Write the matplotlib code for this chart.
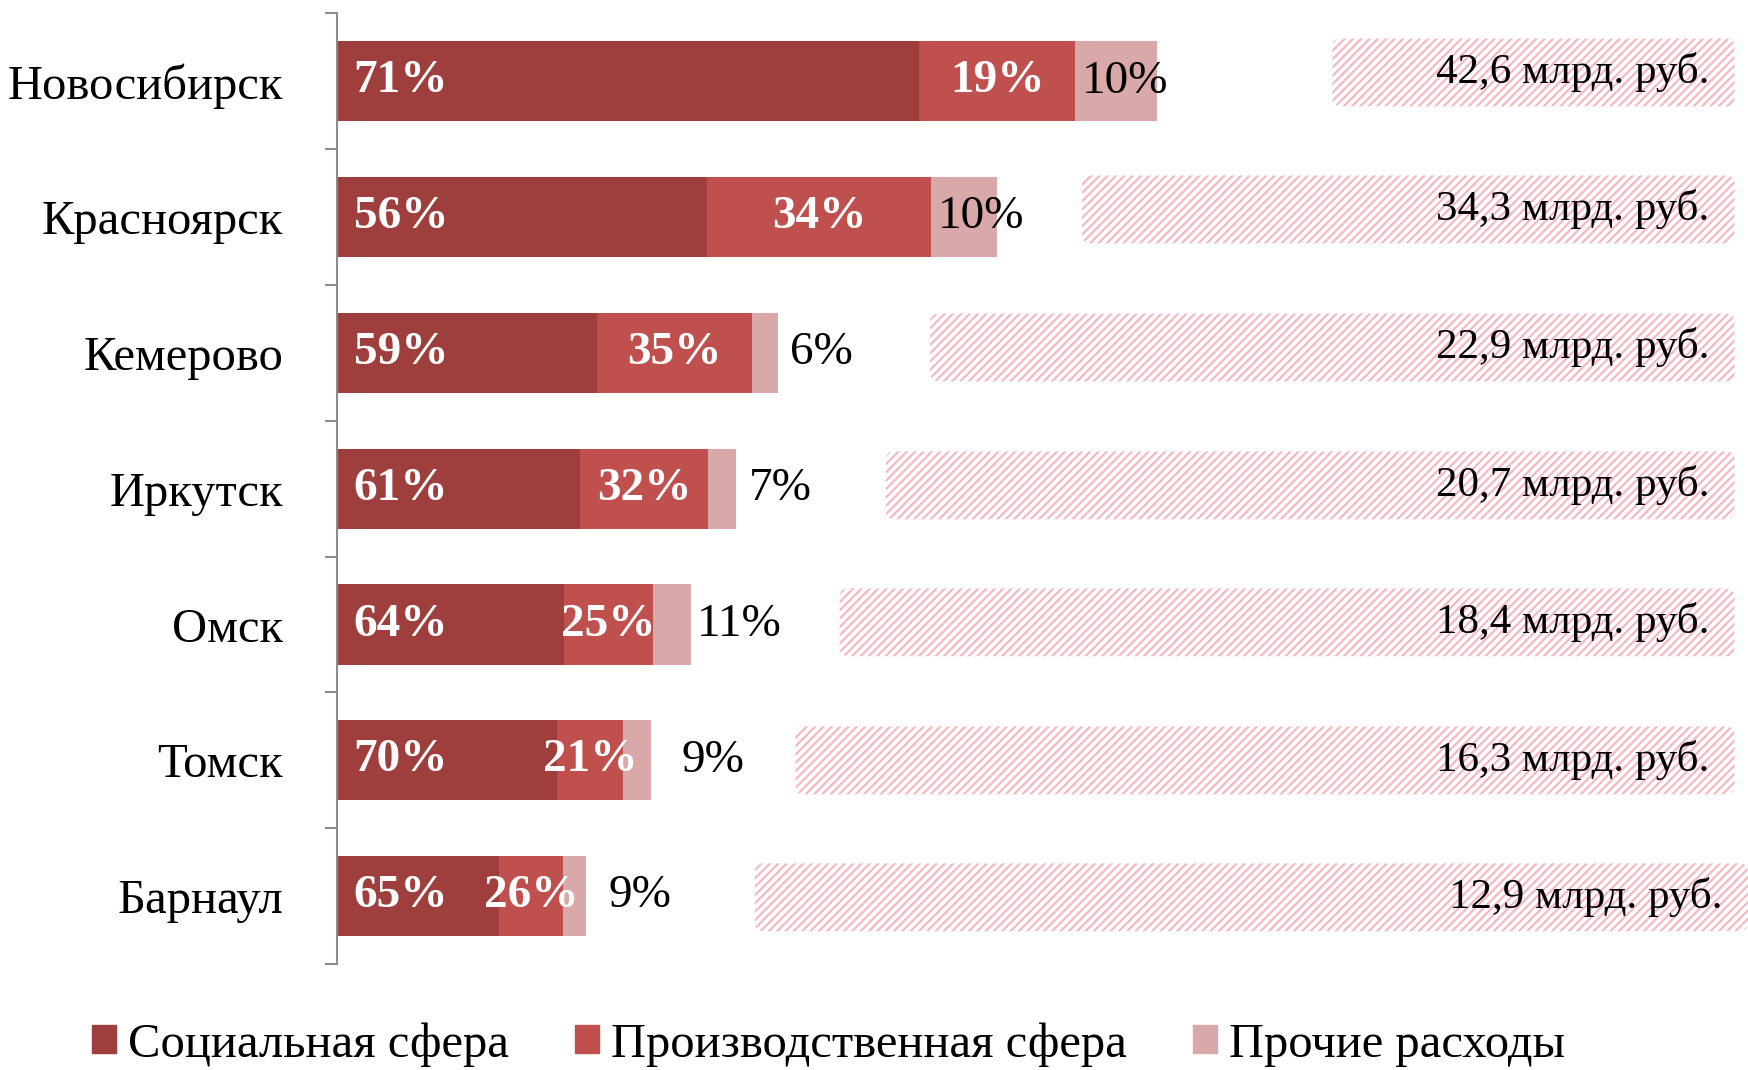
import matplotlib
matplotlib.use("Agg")
import matplotlib.pyplot as plt
from matplotlib.patches import FancyBboxPatch, Patch

plt.rcParams['font.family'] = ['Liberation Serif', 'DejaVu Serif']
plt.rcParams['hatch.linewidth'] = 1.5

cities = ['Новосибирск', 'Красноярск', 'Кемерово', 'Иркутск', 'Омск', 'Томск', 'Барнаул']
totals = [42.6, 34.3, 22.9, 20.7, 18.4, 16.3, 12.9]
social = [71, 56, 59, 61, 64, 70, 65]
production = [19, 34, 35, 32, 25, 21, 26]
other = [10, 10, 6, 7, 11, 9, 9]
total_labels = ['42,6 млрд. руб.', '34,3 млрд. руб.', '22,9 млрд. руб.', '20,7 млрд. руб.',
                '18,4 млрд. руб.', '16,3 млрд. руб.', '12,9 млрд. руб.']
series_names = ['Социальная сфера', 'Производственная сфера', 'Прочие расходы']

# layout (data units)
other_label_x = [38.7, 31.2, 23.5, 21.4, 18.7, 17.9, 14.1]
box_left = [51.7, 38.7, 30.8, 28.5, 26.1, 23.8, 21.7]
box_right = [72.6, 72.6, 72.6, 72.6, 72.6, 72.6, 73.3]
box_shift = [-0.065, -0.057, -0.04, -0.025, -0.016, 0.0, 0.008]

c_social = '#9E3F3E'
c_prod = '#C0504D'
c_other = '#D9A9A9'
c_hatch = '#F8B4C0'

fig = plt.figure(figsize=(17.48, 10.7), dpi=100)
ax = fig.add_axes([0.193, 0.099, 0.807, 0.8885])

y = list(range(len(cities)))
w_soc = [t * s / 100 for t, s in zip(totals, social)]
w_prod = [t * p / 100 for t, p in zip(totals, production)]
w_oth = [t - a - b for t, a, b in zip(totals, w_soc, w_prod)]
left_prod = w_soc
left_oth = [a + b for a, b in zip(w_soc, w_prod)]

ax.barh(y, w_soc, height=0.59, color=c_social, label=series_names[0])
ax.barh(y, w_prod, left=left_prod, height=0.59, color=c_prod, label=series_names[1])
ax.barh(y, w_oth, left=left_oth, height=0.59, color=c_other, label=series_names[2])

fs = 34
for i in y:
    ax.text(0.85, i, f'{social[i]}%', color='white', fontweight='bold', fontsize=fs,
            va='center', ha='left')
    ax.text(left_prod[i] + w_prod[i] / 2, i, f'{production[i]}%', color='white',
            fontweight='bold', fontsize=fs, va='center', ha='center')
    ax.text(other_label_x[i], i, f'{other[i]}%', color='black', fontsize=fs,
            va='center', ha='left')

    yc = i + box_shift[i]
    box = FancyBboxPatch((box_left[i], yc - 0.25), box_right[i] - box_left[i], 0.5,
                         boxstyle='round,pad=0,rounding_size=0.45', mutation_aspect=0.141,
                         facecolor='white', edgecolor=c_hatch, hatch='////', linewidth=0,
                         clip_on=False)
    ax.add_patch(box)
    ax.text(box_right[i] - 1.3, yc, total_labels[i], fontsize=31, color='black',
            va='center', ha='right')

ax.set_xlim(0, 73.3)
ax.set_ylim(6.5, -0.5)
ax.set_xticks([])
ax.set_yticks(y)
ax.set_yticklabels(cities, fontsize=35)
ax.tick_params(axis='y', which='major', length=0, pad=39)
ax.set_yticks([k - 0.5 for k in range(len(cities) + 1)], minor=True)
ax.tick_params(axis='y', which='minor', length=9, width=1.5, color='#8C8C8C')
for s in ['top', 'right', 'bottom']:
    ax.spines[s].set_visible(False)
ax.spines['left'].set_color('#8C8C8C')
ax.spines['left'].set_linewidth(1.5)

handles = [Patch(color=c_social), Patch(color=c_prod), Patch(color=c_other)]
fig.legend(handles, series_names, loc='center', bbox_to_anchor=(0.474, 0.024), ncol=3,
           frameon=False, fontsize=35, handlelength=0.5, handleheight=0.5,
           handletextpad=0.25, columnspacing=1.35, borderaxespad=0)

fig.savefig('out.png', dpi=100)
